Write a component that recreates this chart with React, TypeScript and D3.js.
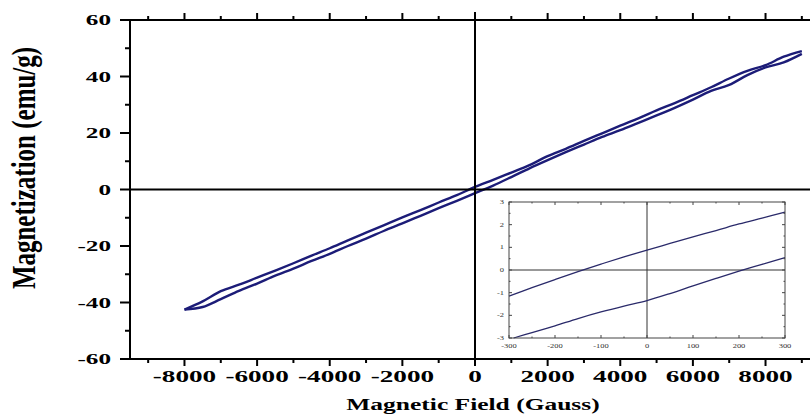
import React, { useEffect, useRef } from "react";
import * as d3 from "d3";

// Main loop: field (Gauss) and magnetization (emu/g)
const fieldDown = [9000, 8500, 8000, 7500, 7000, 6500, 6000, 5500, 5000, 4500, 4000, 3500, 3000, 2500, 2000, 1500, 1000, 500, 0, -500, -1000, -1500, -2000, -2500, -3000, -3500, -4000, -4500, -5000, -5500, -6000, -6500, -7000, -7500, -8000];
const magDown = [49.0, 47.0, 44.0, 42.0, 39.3, 36.2, 33.4, 30.6, 28.0, 25.2, 22.6, 19.9, 17.2, 14.4, 11.8, 8.6, 6.0, 3.4, 0.9, -2.0, -4.6, -7.3, -9.9, -12.6, -15.3, -18.0, -20.8, -23.4, -26.1, -28.7, -31.2, -33.7, -36.0, -39.6, -42.5];
const fieldUp = [-8000, -7500, -7000, -6500, -6000, -5500, -5000, -4500, -4000, -3500, -3000, -2500, -2000, -1500, -1000, -500, 0, 500, 1000, 1500, 2000, 2500, 3000, 3500, 4000, 4500, 5000, 5500, 6000, 6500, 7000, 7500, 8000, 8500, 9000];
const magUp = [-42.5, -41.6, -38.8, -35.9, -33.3, -30.5, -28.0, -25.3, -22.8, -20.0, -17.4, -14.6, -12.0, -9.3, -6.6, -4.0, -1.3, 1.4, 4.4, 7.5, 10.4, 13.2, 15.9, 18.6, 21.0, 23.6, 26.2, 28.9, 31.8, 34.9, 37.0, 40.5, 43.2, 45.0, 48.0];

const xTicks = [-8000, -6000, -4000, -2000, 0, 2000, 4000, 6000, 8000];
const yTicks = [-60, -40, -20, 0, 20, 40, 60];

// Inset: zoom around the origin
const insetFieldUpper = [-300, -250, -200, -150, -100, -50, 0, 50, 100, 150, 200, 250, 300];
const insetMagUpper = [-1.15, -0.78, -0.42, -0.07, 0.26, 0.58, 0.88, 1.17, 1.46, 1.74, 2.03, 2.29, 2.55];
const insetFieldLower = [-290, -250, -200, -150, -100, -50, 0, 50, 100, 150, 200, 250, 300];
const insetMagLower = [-3.0, -2.76, -2.46, -2.14, -1.85, -1.59, -1.35, -1.04, -0.7, -0.37, -0.05, 0.25, 0.55];
const insetXTicks = [-300, -200, -100, 0, 100, 200, 300];
const insetYTicks = [-3, -2, -1, 0, 1, 2, 3];

const LINE = "#1c1c78";
const FONT = "'Liberation Serif', 'Times New Roman', serif";

const App = () => {
  const ref = useRef<SVGSVGElement>(null);

  useEffect(() => {
    const svg = d3.select(ref.current);
    svg.selectAll("*").remove();

    const x = d3.scaleLinear().domain([-9500, 9500]).range([130, 820]);
    const y = d3.scaleLinear().domain([-60, 60]).range([359, 20]);
    const top = y(60);
    const bottom = y(-60);

    const line = d3
      .line<[number, number]>()
      .x((d) => x(d[0]))
      .y((d) => y(d[1]))
      .curve(d3.curveCatmullRom);

    // Loop branches
    const down = fieldDown.map((f, i) => [f, magDown[i]] as [number, number]);
    const up = fieldUp.map((f, i) => [f, magUp[i]] as [number, number]);
    [down, up].forEach((pts) => {
      svg
        .append("path")
        .attr("d", line(pts))
        .attr("fill", "none")
        .attr("stroke", LINE)
        .attr("stroke-width", 2.4)
        .attr("stroke-linejoin", "round");
    });

    // Zero lines
    svg.append("line").attr("x1", x(0)).attr("x2", x(0)).attr("y1", top - 8).attr("y2", bottom + 7)
      .attr("stroke", "#000").attr("stroke-width", 2);
    svg.append("line").attr("x1", x(-9500)).attr("x2", x(9500)).attr("y1", y(0)).attr("y2", y(0))
      .attr("stroke", "#000").attr("stroke-width", 1.8);

    // Frame
    svg.append("rect").attr("x", x(-9500)).attr("y", top).attr("width", x(9500) - x(-9500)).attr("height", bottom - top)
      .attr("fill", "none").attr("stroke", "#000").attr("stroke-width", 2);

    // x ticks (bottom outward, top outward)
    d3.range(-9000, 9001, 1000).forEach((v) => {
      const major = v % 2000 === 0;
      const len = major ? 7 : 4;
      svg.append("line").attr("x1", x(v)).attr("x2", x(v)).attr("y1", bottom).attr("y2", bottom + len)
        .attr("stroke", "#000").attr("stroke-width", 2);
      svg.append("line").attr("x1", x(v)).attr("x2", x(v)).attr("y1", top).attr("y2", top - len)
        .attr("stroke", "#000").attr("stroke-width", 2);
    });
    xTicks.forEach((v) => {
      svg.append("text")
        .attr("transform", `translate(${x(v)},382) scale(1.7,1)`)
        .attr("text-anchor", "middle")
        .attr("font-family", FONT).attr("font-weight", "bold").attr("font-size", 16)
        .text(v);
    });

    // y ticks
    d3.range(-60, 61, 10).forEach((v) => {
      const len = v % 20 === 0 ? 10 : 5;
      svg.append("line").attr("x1", x(-9500)).attr("x2", x(-9500) - len).attr("y1", y(v)).attr("y2", y(v))
        .attr("stroke", "#000").attr("stroke-width", 2);
    });
    yTicks.forEach((v) => {
      svg.append("text")
        .attr("transform", `translate(111,${y(v) + 5}) scale(1.8,1)`)
        .attr("text-anchor", "end")
        .attr("font-family", FONT).attr("font-weight", "bold").attr("font-size", 14)
        .text(v);
    });

    // Axis titles
    svg.append("text")
      .attr("transform", `translate(473,410) scale(1.5,1)`)
      .attr("text-anchor", "middle")
      .attr("font-family", FONT).attr("font-weight", "bold").attr("font-size", 17)
      .text("Magnetic Field (Gauss)");
    svg.append("text")
      .attr("transform", `translate(35,168) rotate(-90) scale(1,1.33)`)
      .attr("text-anchor", "middle")
      .attr("font-family", FONT).attr("font-weight", "bold").attr("font-size", 25)
      .text("Magnetization (emu/g)");

    // ---- Inset ----
    const ix = d3.scaleLinear().domain([-300, 300]).range([509, 785]);
    const iy = d3.scaleLinear().domain([-3, 3]).range([338, 202]);
    const inset = svg.append("g");
    inset.append("rect").attr("x", 478).attr("y", 195).attr("width", 332).attr("height", 162).attr("fill", "#fff");

    inset.append("line").attr("x1", ix(0)).attr("x2", ix(0)).attr("y1", iy(3)).attr("y2", iy(-3))
      .attr("stroke", "#333").attr("stroke-width", 1);
    inset.append("line").attr("x1", ix(-300)).attr("x2", ix(300)).attr("y1", iy(0)).attr("y2", iy(0))
      .attr("stroke", "#333").attr("stroke-width", 1);

    const iline = d3
      .line<[number, number]>()
      .x((d) => ix(d[0]))
      .y((d) => iy(d[1]))
      .curve(d3.curveCatmullRom);
    [
      insetFieldUpper.map((f, i) => [f, insetMagUpper[i]] as [number, number]),
      insetFieldLower.map((f, i) => [f, insetMagLower[i]] as [number, number]),
    ].forEach((pts) => {
      inset.append("path").attr("d", iline(pts)).attr("fill", "none")
        .attr("stroke", "#2a2a6a").attr("stroke-width", 1.3);
    });

    inset.append("rect").attr("x", ix(-300)).attr("y", iy(3)).attr("width", ix(300) - ix(-300)).attr("height", iy(-3) - iy(3))
      .attr("fill", "none").attr("stroke", "#444").attr("stroke-width", 1);

    d3.range(-300, 301, 50).forEach((v) => {
      const len = v % 100 === 0 ? 3 : 1.5;
      inset.append("line").attr("x1", ix(v)).attr("x2", ix(v)).attr("y1", iy(-3)).attr("y2", iy(-3) - len)
        .attr("stroke", "#444").attr("stroke-width", 1);
      inset.append("line").attr("x1", ix(v)).attr("x2", ix(v)).attr("y1", iy(3)).attr("y2", iy(3) + len)
        .attr("stroke", "#444").attr("stroke-width", 1);
    });
    d3.range(-3, 3.01, 0.5).forEach((v) => {
      const len = Number.isInteger(v) ? 3 : 1.5;
      inset.append("line").attr("x1", ix(-300)).attr("x2", ix(-300) + len).attr("y1", iy(v)).attr("y2", iy(v))
        .attr("stroke", "#444").attr("stroke-width", 1);
      inset.append("line").attr("x1", ix(300)).attr("x2", ix(300) - len).attr("y1", iy(v)).attr("y2", iy(v))
        .attr("stroke", "#444").attr("stroke-width", 1);
    });
    insetXTicks.forEach((v) => {
      inset.append("text")
        .attr("transform", `translate(${ix(v)},348) scale(1.3,1)`)
        .attr("text-anchor", "middle")
        .attr("font-family", FONT).attr("font-size", 6.5).attr("fill", "#333")
        .text(v);
    });
    insetYTicks.forEach((v) => {
      inset.append("text")
        .attr("transform", `translate(504,${iy(v) + 2}) scale(1.3,1)`)
        .attr("text-anchor", "end")
        .attr("font-family", FONT).attr("font-size", 6.5).attr("fill", "#333")
        .text(v);
    });
  }, []);

  return (
    <svg
      ref={ref}
      width={810}
      height={416}
      style={{ position: "absolute", left: 0, top: 0, background: "#fff" }}
    />
  );
};

export default App;
